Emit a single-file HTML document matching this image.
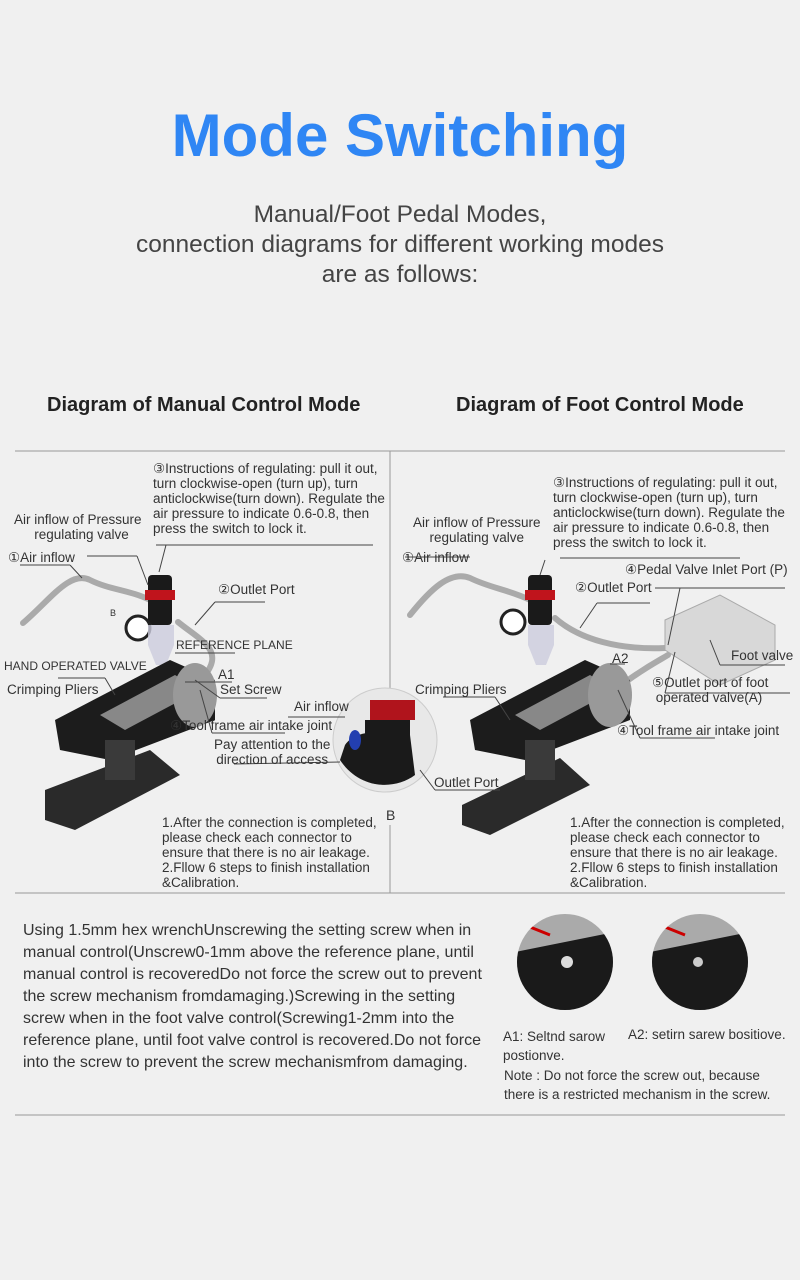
<!DOCTYPE html>
<html><head><meta charset="utf-8"><style>
body{margin:0;background:#f0f0f0;}
#p{position:relative;width:800px;height:1280px;overflow:hidden;background:#f0f0f0;font-family:"Liberation Sans",sans-serif;color:#333;}
.a{position:absolute;white-space:nowrap;}
.s{font-size:13.5px;line-height:15px;color:#333;}
</style></head><body><div id="p">
<div class="a" style="left:0;width:800px;top:101px;text-align:center;font-size:60px;font-weight:bold;color:#2f86f4;line-height:70px;">Mode Switching</div>
<div class="a" style="left:0;width:800px;top:200px;text-align:center;font-size:24.5px;line-height:30px;color:#444;">Manual/Foot Pedal Modes,<br>connection diagrams for different working modes<br>are as follows:</div>
<div class="a" style="left:47px;top:394px;font-size:20px;font-weight:bold;color:#222;">Diagram of Manual Control Mode</div>
<div class="a" style="left:456px;top:394px;font-size:20px;font-weight:bold;color:#222;">Diagram of Foot Control Mode</div>

<svg class="a" style="left:0;top:0" width="800" height="1280">
<g stroke="#999" fill="none" stroke-width="1">
<line x1="15" y1="451" x2="785" y2="451"/>
<line x1="15" y1="893" x2="785" y2="893"/>
<line x1="390" y1="451" x2="390" y2="700"/>
<line x1="390" y1="825" x2="390" y2="893"/>
<line x1="15" y1="1115" x2="785" y2="1115"/>
</g>
<g stroke="#aaa" stroke-width="6" fill="none" stroke-linecap="round">
<path d="M23,623 C50,600 70,570 90,580 C110,590 130,590 150,600"/>
<path d="M178,622 C200,640 225,650 205,675 C195,690 185,700 180,700"/>
<path d="M410,615 C430,590 450,570 470,578 C490,588 510,590 530,600"/>
<path d="M555,618 C580,640 620,650 665,648"/>
<path d="M615,690 C640,670 660,660 668,655"/>
</g>
<g>
<rect x="148" y="575" width="24" height="50" rx="4" fill="#1a1a1a"/>
<rect x="145" y="590" width="30" height="10" fill="#c0141c"/>
<circle cx="138" cy="628" r="12" fill="#fff" stroke="#222" stroke-width="3"/>
<path d="M148,625 h26 v20 l-8,20 h-10 l-8,-20z" fill="#ccd" opacity=".8"/>
<rect x="528" y="575" width="24" height="50" rx="4" fill="#1a1a1a"/>
<rect x="525" y="590" width="30" height="10" fill="#c0141c"/>
<circle cx="513" cy="622" r="12" fill="#fff" stroke="#222" stroke-width="3"/>
<path d="M528,625 h26 v20 l-8,20 h-10 l-8,-20z" fill="#ccd" opacity=".8"/>
</g>
<g>
<polygon points="55,720 170,660 215,680 215,720 110,760 60,750" fill="#1c1c1c"/>
<polygon points="100,715 175,675 200,690 125,730" fill="#888"/>
<ellipse cx="195" cy="695" rx="22" ry="32" fill="#999"/>
<polygon points="45,790 150,750 180,775 75,830 45,820" fill="#2a2a2a"/>
<rect x="105" y="740" width="30" height="40" fill="#3a3a3a"/>
<polygon points="470,720 585,660 630,680 630,720 525,760 475,750" fill="#1c1c1c"/>
<polygon points="515,715 590,675 615,690 540,730" fill="#888"/>
<ellipse cx="610" cy="695" rx="22" ry="32" fill="#999"/>
<polygon points="462,805 560,758 590,785 490,835 462,825" fill="#2a2a2a"/>
<rect x="525" y="740" width="30" height="40" fill="#3a3a3a"/>
</g>
<polygon points="665,620 720,595 775,625 775,660 720,685 665,650" fill="#d8d8d8" stroke="#aaa"/>
<circle cx="385" cy="740" r="52" fill="#e8e8e8" stroke="#ccc"/>
<path d="M345,745 C355,730 380,730 410,735 L415,775 C395,790 360,790 340,760z" fill="#1a1a1a"/>
<rect x="370" y="700" width="45" height="20" fill="#b0141c"/>
<rect x="365" y="720" width="45" height="20" fill="#1a1a1a"/>
<ellipse cx="355" cy="740" rx="6" ry="10" fill="#233fb0"/>
<g stroke="#444" stroke-width="1" fill="none">
<line x1="156" y1="545" x2="373" y2="545"/><line x1="166" y1="545" x2="159" y2="572"/>
<line x1="20" y1="565" x2="70" y2="565"/><line x1="70" y1="565" x2="82" y2="578"/>
<line x1="87" y1="556" x2="137" y2="556"/><line x1="137" y1="556" x2="148" y2="585"/>
<line x1="215" y1="602" x2="265" y2="602"/><line x1="215" y1="602" x2="195" y2="625"/>
<line x1="175" y1="653" x2="235" y2="653"/>
<line x1="58" y1="678" x2="105" y2="678"/><line x1="105" y1="678" x2="115" y2="695"/>
<line x1="185" y1="682" x2="232" y2="682"/><line x1="220" y1="698" x2="267" y2="698"/><line x1="220" y1="698" x2="195" y2="680"/>
<line x1="212" y1="733" x2="285" y2="733"/><line x1="212" y1="733" x2="200" y2="690"/>
<line x1="288" y1="717" x2="345" y2="717"/>
<line x1="234" y1="764" x2="340" y2="762"/>
<line x1="560" y1="558" x2="740" y2="558"/><line x1="545" y1="560" x2="540" y2="575"/>
<line x1="405" y1="557" x2="470" y2="557"/>
<line x1="597" y1="603" x2="650" y2="603"/><line x1="597" y1="603" x2="580" y2="628"/>
<line x1="655" y1="588" x2="785" y2="588"/><line x1="680" y1="588" x2="668" y2="645"/>
<line x1="720" y1="665" x2="785" y2="665"/><line x1="720" y1="665" x2="710" y2="640"/>
<line x1="665" y1="693" x2="790" y2="693"/><line x1="665" y1="693" x2="675" y2="652"/>
<line x1="640" y1="738" x2="715" y2="738"/><line x1="640" y1="738" x2="618" y2="690"/>
<line x1="610" y1="664" x2="625" y2="664"/>
<line x1="443" y1="697" x2="495" y2="697"/><line x1="495" y1="697" x2="510" y2="720"/>
<line x1="435" y1="790" x2="500" y2="790"/><line x1="435" y1="790" x2="420" y2="770"/>
</g>
</svg>

<div class="a s" style="left:153px;top:461px;">③Instructions of regulating: pull it out,<br>turn clockwise-open (turn up), turn<br>anticlockwise(turn down). Regulate the<br>air pressure to indicate 0.6-0.8, then<br>press the switch to lock it.</div>
<div class="a s" style="left:14px;top:512px;text-align:center;">Air inflow of Pressure<br>&nbsp;&nbsp;regulating valve</div>
<div class="a s" style="left:8px;top:550px;">①Air inflow</div>
<div class="a" style="left:110px;top:608px;font-size:9px;">B</div>
<div class="a s" style="left:218px;top:582px;">②Outlet Port</div>
<div class="a" style="left:176px;top:638px;font-size:12px;">REFERENCE PLANE</div>
<div class="a" style="left:4px;top:659px;font-size:12px;">HAND OPERATED VALVE</div>
<div class="a s" style="left:218px;top:667px;">A1</div>
<div class="a s" style="left:7px;top:682px;">Crimping Pliers</div>
<div class="a s" style="left:220px;top:682px;">Set Screw</div>
<div class="a s" style="left:294px;top:699px;">Air inflow</div>
<div class="a s" style="left:170px;top:718px;">④Tool frame air intake joint</div>
<div class="a s" style="left:214px;top:737px;text-align:center;">Pay attention to the<br>direction of access</div>
<div class="a s" style="left:386px;top:808px;font-size:14px;">B</div>
<div class="a s" style="left:434px;top:775px;">Outlet Port</div>
<div class="a s" style="left:162px;top:815px;">1.After the connection is completed,<br>please check each connector to<br>ensure that there is no air leakage.<br>2.Fllow 6 steps to finish installation<br>&amp;Calibration.</div>

<div class="a s" style="left:553px;top:475px;">③Instructions of regulating: pull it out,<br>turn clockwise-open (turn up), turn<br>anticlockwise(turn down). Regulate the<br>air pressure to indicate 0.6-0.8, then<br>press the switch to lock it.</div>
<div class="a s" style="left:413px;top:515px;text-align:center;">Air inflow of Pressure<br>regulating valve</div>
<div class="a s" style="left:402px;top:550px;">①Air inflow</div>
<div class="a s" style="left:625px;top:562px;">④Pedal Valve Inlet Port (P)</div>
<div class="a s" style="left:575px;top:580px;">②Outlet Port</div>
<div class="a s" style="left:731px;top:648px;">Foot valve</div>
<div class="a s" style="left:612px;top:651px;">A2</div>
<div class="a s" style="left:652px;top:675px;">⑤Outlet port of foot<br>&nbsp;operated valve(A)</div>
<div class="a s" style="left:415px;top:682px;">Crimping Pliers</div>
<div class="a s" style="left:617px;top:723px;">④Tool frame air intake joint</div>
<div class="a s" style="left:570px;top:815px;">1.After the connection is completed,<br>please check each connector to<br>ensure that there is no air leakage.<br>2.Fllow 6 steps to finish installation<br>&amp;Calibration.</div>

<div class="a" style="left:23px;top:920px;font-size:16px;line-height:22px;color:#333;">Using 1.5mm hex wrenchUnscrewing the setting screw when in<br>manual control(Unscrew0-1mm above the reference plane, until<br>manual control is recoveredDo not force the screw out to prevent<br>the screw mechanism fromdamaging.)Screwing in the setting<br>screw when in the foot valve control(Screwing1-2mm into the<br>reference plane, until foot valve control is recovered.Do not force<br>into the screw to prevent the screw mechanismfrom damaging.</div>
<svg class="a" style="left:515px;top:912px" width="270" height="110">
<defs><clipPath id="c1"><circle cx="50" cy="50" r="48"/></clipPath><clipPath id="c2"><circle cx="185" cy="50" r="48"/></clipPath></defs>
<circle cx="50" cy="50" r="48" fill="#aaa"/>
<g clip-path="url(#c1)"><polygon points="0,40 100,20 100,100 0,100" fill="#1a1a1a"/><circle cx="52" cy="50" r="6" fill="#ddd"/><path d="M15,15 l20,8" stroke="#c00" stroke-width="3"/></g>
<circle cx="185" cy="50" r="48" fill="#aaa"/>
<g clip-path="url(#c2)"><polygon points="135,40 235,20 235,100 135,100" fill="#1a1a1a"/><circle cx="183" cy="50" r="5" fill="#ccc"/><path d="M150,15 l20,8" stroke="#c00" stroke-width="3"/></g>
</svg>
<div class="a s" style="left:503px;top:1027px;line-height:19px;">A1: Seltnd sarow<br>postionve.</div>
<div class="a s" style="left:628px;top:1027px;">A2: setirn sarew bositiove.</div>
<div class="a s" style="left:504px;top:1066px;line-height:19px;">Note : Do not force the screw out, because<br>there is a restricted mechanism in the screw.</div>
</div></body></html>
